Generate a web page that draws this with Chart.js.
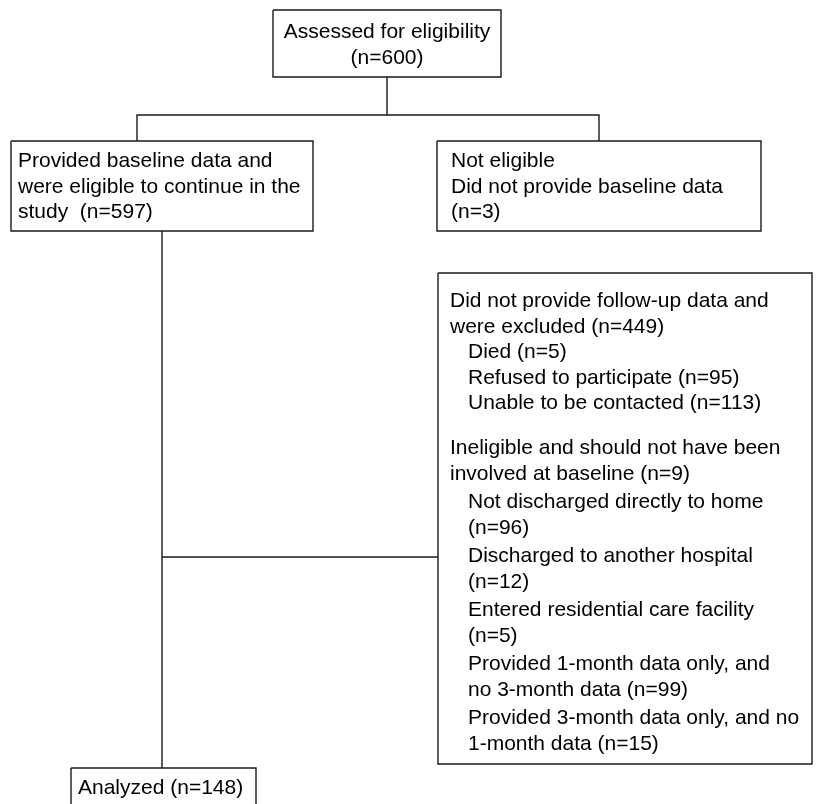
<!DOCTYPE html>
<html>
<head>
<meta charset="utf-8">
<script src="https://cdn.jsdelivr.net/npm/chart.js@4.4.1/dist/chart.umd.min.js"></script>
<style>
  html, body { margin: 0; padding: 0; background: #fff; }
  canvas { display: block; }
</style>
</head>
<body>
<canvas id="flow" width="822" height="804"></canvas>
<script>
// texts of each box
const assessedLines = ["Assessed for eligibility", "(n=600)"];
const baselineLines = ["Provided baseline data and", "were eligible to continue in the", "study  (n=597)"];
const notEligibleLines = ["Not eligible", "Did not provide baseline data", "(n=3)"];
const droppedHead = ["Did not provide follow-up data and", "were excluded (n=449)"];
const droppedItems = [["Died (n=5)"], ["Refused to participate (n=95)"], ["Unable to be contacted (n=113)"]];
const ineligibleHead = ["Ineligible and should not have been", "involved at baseline (n=9)"];
const ineligibleItems = [
  ["Not discharged directly to home", "(n=96)"],
  ["Discharged to another hospital", "(n=12)"],
  ["Entered residential care facility", "(n=5)"],
  ["Provided 1-month data only, and", "no 3-month data (n=99)"],
  ["Provided 3-month data only, and no", "1-month data (n=15)"]
];
const analyzedLines = ["Analyzed (n=148)"];

// layout (page units, y grows downward)
const FONT = '21px "Liberation Sans", Arial, sans-serif';
const PITCH = 25.5;
const geom = {
  assessed:    { x0: 273, x1: 501, y0: 10,  y1: 77 },
  baseline:    { x0: 11,  x1: 313, y0: 141, y1: 231 },
  notEligible: { x0: 437, x1: 761, y0: 141, y1: 231 },
  excluded:    { x0: 438, x1: 812, y0: 273, y1: 764 },
  analyzed:    { x0: 71,  x1: 256, y0: 768, y1: 830 }
};
const splitY = 115, leftDropX = 137, rightDropX = 599, branchY = 557;
const trunkX = (geom.baseline.x0 + geom.baseline.x1) / 2;
const topX = (geom.assessed.x0 + geom.assessed.x1) / 2;

function rect(g) {
  return [
    { x: g.x0, y: g.y0 }, { x: g.x1, y: g.y0 }, { x: g.x1, y: g.y1 },
    { x: g.x0, y: g.y1 }, { x: g.x0, y: g.y0 }
  ];
}

const paths = [
  rect(geom.assessed), rect(geom.baseline), rect(geom.notEligible),
  rect(geom.excluded), rect(geom.analyzed),
  [{ x: topX, y: geom.assessed.y1 }, { x: topX, y: splitY }],
  [{ x: leftDropX, y: geom.baseline.y0 }, { x: leftDropX, y: splitY }, { x: rightDropX, y: splitY }, { x: rightDropX, y: geom.notEligible.y0 }],
  [{ x: trunkX, y: geom.baseline.y1 }, { x: trunkX, y: geom.analyzed.y0 }],
  [{ x: trunkX, y: branchY }, { x: geom.excluded.x0, y: branchY }]
];

const datasets = paths.map(p => ({
  data: p,
  showLine: true,
  borderColor: '#1a1a1a',
  borderWidth: 1.4,
  pointRadius: 0,
  fill: false,
  tension: 0
}));

// text placed through the chart scales
const boxText = {
  id: 'boxText',
  afterDatasetsDraw(chart) {
    const ctx = chart.ctx;
    const sx = v => chart.scales.x.getPixelForValue(v);
    const sy = v => chart.scales.y.getPixelForValue(v);
    ctx.save();
    ctx.font = FONT;
    ctx.fillStyle = '#000';
    ctx.textBaseline = 'alphabetic';

    const put = (lines, x, y, align) => {
      ctx.textAlign = align || 'left';
      lines.forEach((t, i) => ctx.fillText(t, sx(x), sy(y + i * PITCH)));
    };

    put(assessedLines, topX, 38, 'center');
    put(baselineLines, 18, 167);
    put(notEligibleLines, 451, 167);
    put(analyzedLines, 78, 794);

    const block = (head, items, y, gap) => {
      put(head, 450, y);
      y += head.length * PITCH;
      items.forEach(item => {
        y += gap;
        put(item, 468, y);
        y += item.length * PITCH;
      });
    };
    block(droppedHead, droppedItems, 307, 0);
    block(ineligibleHead, ineligibleItems, 454, 3);
    ctx.restore();
  }
};

new Chart(document.getElementById('flow').getContext('2d'), {
  type: 'scatter',
  data: { datasets: datasets },
  options: {
    responsive: false,
    animation: false,
    layout: { padding: 0 },
    scales: {
      x: { type: 'linear', min: 0, max: 822, display: false },
      y: { type: 'linear', min: 0, max: 804, reverse: true, display: false }
    },
    plugins: { legend: { display: false }, tooltip: { enabled: false } }
  },
  plugins: [boxText]
});
</script>
</body>
</html>
